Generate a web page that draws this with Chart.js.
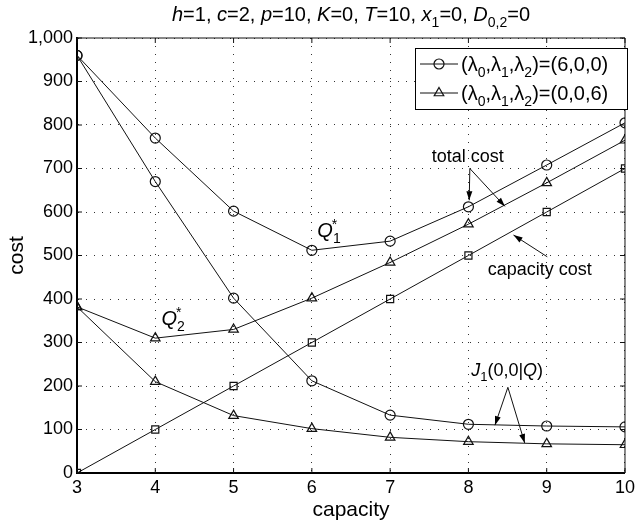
<!DOCTYPE html>
<html>
<head>
<meta charset="utf-8">
<script src="https://cdn.jsdelivr.net/npm/chart.js@4.4.0/dist/chart.umd.min.js"></script>
<style>
  html, body { margin: 0; padding: 0; background: #fff; }
  #wrap { width: 639px; height: 524px; }
</style>
</head>
<body>
<div id="wrap"><canvas id="chart"></canvas></div>
<script>
const capacity     = [3, 4, 5, 6, 7, 8, 9, 10];
const totalA       = [960, 770, 602, 512, 533, 612, 708, 805];   // (6,0,0) total cost
const j1A          = [960, 670, 402, 212, 133, 112, 108, 106];   // (6,0,0) J1(0,0|Q)
const totalB       = [382, 310, 330, 402, 484, 572, 667, 765];   // (0,0,6) total cost
const j1B          = [382, 210, 132, 102, 82, 72, 67, 65];       // (0,0,6) J1(0,0|Q)
const capacityCost = [0, 100, 200, 300, 400, 500, 600, 700];

const FONT = '"Liberation Sans", Arial, Helvetica, sans-serif';
const INK = '#111';

const pts = (ys) => capacity.map((x, i) => ({ x, y: ys[i] }));

function series(ys, style) {
  return {
    data: pts(ys),
    borderColor: INK,
    borderWidth: 1,
    pointStyle: style,
    pointRadius: style === 'triangle' ? 5.5 : 5,
    pointBorderColor: INK,
    pointBackgroundColor: 'rgba(0,0,0,0)',
    pointBorderWidth: 1.2,
    tension: 0
  };
}

// text made of pieces: n = normal, i = italic, sub, sup
function rich(ctx, x, y, segs, size, align) {
  const fontFor = (s) => {
    const small = (s === 'sub' || s === 'sup');
    return (s === 'i' ? 'italic ' : '') + Math.round(small ? size * 0.72 : size) + 'px ' + FONT;
  };
  let w = 0;
  segs.forEach(([t, s]) => { ctx.font = fontFor(s); w += ctx.measureText(t).width; });
  let cx = align === 'center' ? x - w / 2 : x;
  ctx.textAlign = 'left';
  ctx.textBaseline = 'alphabetic';
  segs.forEach(([t, s]) => {
    ctx.font = fontFor(s);
    let dy = 0;
    if (s === 'sub') dy = size * 0.3;
    if (s === 'sup') dy = -size * 0.45;
    ctx.fillText(t, cx, y + dy);
    cx += ctx.measureText(t).width;
  });
  return cx;
}

function arrow(ctx, x1, y1, x2, y2) {
  ctx.beginPath();
  ctx.moveTo(x1, y1);
  ctx.lineTo(x2, y2);
  ctx.stroke();
  const a = Math.atan2(y2 - y1, x2 - x1);
  const L = 9, W = 3;
  ctx.beginPath();
  ctx.moveTo(x2, y2);
  ctx.lineTo(x2 - L * Math.cos(a) + W * Math.sin(a), y2 - L * Math.sin(a) - W * Math.cos(a));
  ctx.lineTo(x2 - L * Math.cos(a) - W * Math.sin(a), y2 - L * Math.sin(a) + W * Math.cos(a));
  ctx.closePath();
  ctx.fill();
}

const lam = (v) => [['(λ', 'n'], ['0', 'sub'], [',λ', 'n'], ['1', 'sub'], [',λ', 'n'], ['2', 'sub'], [')=' + v, 'n']];

const decor = {
  id: 'decor',
  afterDraw(chart) {
    const { ctx, chartArea: a, scales: { x, y } } = chart;
    ctx.save();
    ctx.fillStyle = '#000';
    ctx.strokeStyle = INK;

    // frame and inward ticks
    ctx.lineWidth = 1;
    ctx.beginPath();
    ctx.moveTo(a.left, a.top); ctx.lineTo(a.right, a.top); ctx.lineTo(a.right, a.bottom);
    capacity.forEach(v => {
      const px = x.getPixelForValue(v);
      ctx.moveTo(px, a.top); ctx.lineTo(px, a.top + 5);
      ctx.moveTo(px, a.bottom); ctx.lineTo(px, a.bottom - 5);
    });
    y.ticks.forEach(t => {
      const py = y.getPixelForValue(t.value);
      ctx.moveTo(a.right, py); ctx.lineTo(a.right - 5, py);
      ctx.moveTo(a.left, py); ctx.lineTo(a.left + 5, py);
    });
    ctx.stroke();

    // title
    rich(ctx, (a.left + a.right) / 2, 21, [
      ['h', 'i'], ['=1, ', 'n'], ['c', 'i'], ['=2, ', 'n'], ['p', 'i'], ['=10, ', 'n'],
      ['K', 'i'], ['=0, ', 'n'], ['T', 'i'], ['=10, ', 'n'], ['x', 'i'], ['1', 'sub'],
      ['=0, ', 'n'], ['D', 'i'], ['0,2', 'sub'], ['=0', 'n']
    ], 20, 'center');

    // axis titles
    ctx.font = '21px ' + FONT;
    ctx.textAlign = 'center';
    ctx.textBaseline = 'middle';
    ctx.fillText('capacity', (a.left + a.right) / 2, 510);
    ctx.save();
    ctx.translate(17, (a.top + a.bottom) / 2);
    ctx.rotate(-Math.PI / 2);
    ctx.fillText('cost', 0, 0);
    ctx.restore();

    // annotations
    const P = (vx, vy) => [x.getPixelForValue(vx), y.getPixelForValue(vy)];
    let p, e;
    p = P(6.07, 542);
    e = rich(ctx, p[0], p[1], [['Q', 'i'], ['1', 'sub']], 20, 'left');
    ctx.font = '14px ' + FONT; ctx.textAlign = 'left'; ctx.textBaseline = 'alphabetic';
    ctx.fillText('*', e - 9, p[1] - 8);
    p = P(4.08, 340);
    e = rich(ctx, p[0], p[1], [['Q', 'i'], ['2', 'sub']], 20, 'left');
    ctx.font = '14px ' + FONT; ctx.textAlign = 'left';
    ctx.fillText('*', e - 9, p[1] - 8);

    p = P(7.53, 716);
    rich(ctx, p[0], p[1], [['total cost', 'n']], 18, 'left');
    p = P(8.246, 455);
    rich(ctx, p[0], p[1], [['capacity cost', 'n']], 18, 'left');
    p = P(8.035, 223);
    rich(ctx, p[0], p[1], [['J', 'i'], ['1', 'sub'], ['(0,0|', 'n'], ['Q', 'i'], [')', 'n']], 18, 'left');

    ctx.lineWidth = 1;
    const o1 = P(8.018, 700);
    arrow(ctx, ...o1, ...P(8.01, 627));
    arrow(ctx, ...o1, ...P(8.466, 613));
    arrow(ctx, ...P(9.007, 497), ...P(8.576, 547));
    const o2 = P(8.504, 197);
    arrow(ctx, ...o2, ...P(8.339, 110));
    arrow(ctx, ...o2, ...P(8.719, 69));

    // legend
    const bx = a.left + 338, by = a.top + 10, bw = 212, bh = 61;
    ctx.fillStyle = '#fff';
    ctx.fillRect(bx, by, bw, bh);
    ctx.strokeStyle = '#000';
    ctx.lineWidth = 1;
    ctx.strokeRect(bx + 0.5, by + 0.5, bw, bh);
    const rows = [
      { ds: chart.data.datasets[0], label: lam('(6,0,0)'), cy: by + 16 },
      { ds: chart.data.datasets[2], label: lam('(0,0,6)'), cy: by + 45 }
    ];
    rows.forEach(r => {
      ctx.strokeStyle = INK;
      ctx.lineWidth = 1;
      ctx.beginPath();
      ctx.moveTo(bx + 5, r.cy); ctx.lineTo(bx + 43, r.cy);
      ctx.stroke();
      ctx.fillStyle = 'rgba(0,0,0,0)';
      ctx.lineWidth = 1.2;
      Chart.helpers.drawPoint(ctx, { pointStyle: r.ds.pointStyle, radius: r.ds.pointRadius, borderWidth: 1.2 }, bx + 24, r.cy);
      ctx.fillStyle = '#000';
      rich(ctx, bx + 46, r.cy + 7, r.label, 20, 'left');
    });

    ctx.restore();
  }
};

new Chart(document.getElementById('chart'), {
  type: 'line',
  data: {
    datasets: [
      series(totalA, 'circle'),
      series(j1A, 'circle'),
      series(totalB, 'triangle'),
      series(j1B, 'triangle'),
      series(capacityCost, 'rect')
    ]
  },
  options: {
    responsive: true,
    maintainAspectRatio: false,
    animation: false,
    layout: { padding: { top: 38, right: 10, left: 0, bottom: 0 } },
    plugins: { legend: { display: false }, tooltip: { enabled: false } },
    scales: {
      x: {
        type: 'linear', min: 3, max: 10,
        afterFit: (s) => { s.height = 51; },
        ticks: { stepSize: 1, color: '#000', padding: 4, font: { family: FONT, size: 18 } },
        grid: { color: '#333', lineWidth: 1, drawTicks: false },
        border: { display: true, color: '#000', width: 2, dash: [1, 7] }
      },
      y: {
        min: 0, max: 1000,
        afterFit: (s) => { s.width = 77; },
        ticks: { stepSize: 100, color: '#000', padding: 4, font: { family: FONT, size: 18 } },
        grid: { color: '#333', lineWidth: 1, drawTicks: false },
        border: { display: true, color: '#000', width: 2, dash: [1, 7] }
      }
    }
  },
  plugins: [decor]
});
</script>
</body>
</html>
